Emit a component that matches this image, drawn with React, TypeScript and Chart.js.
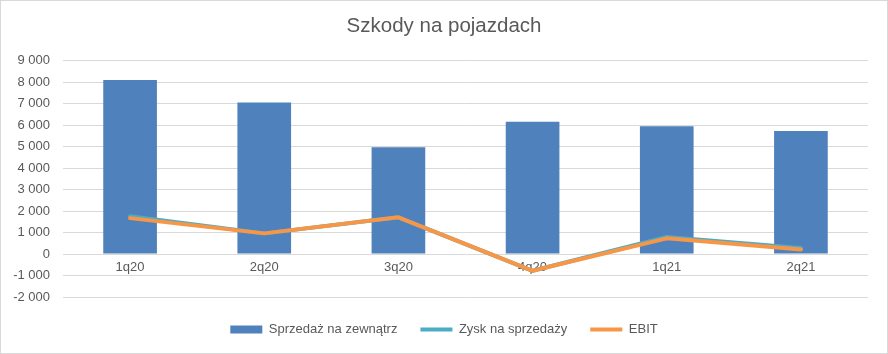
import React, { useEffect, useRef } from 'react';
import { Chart, registerables } from 'chart.js';

Chart.register(...registerables);

const categories = ['1q20', '2q20', '3q20', '4q20', '1q21', '2q21'];
const sprzedazNaZewnatrz = [8100, 7050, 4970, 6150, 5950, 5720];
const zyskNaSprzedazy = [1760, 960, 1710, -780, 790, 280];
const ebit = [1670, 960, 1710, -780, 730, 215];
const yMin = -2000;
const yMax = 9000;
const yStep = 1000;

const FONT = "'Liberation Sans', Arial, sans-serif";
const TEXT = '#595959';

function fmt(v: number): string {
  const s = Math.abs(Math.round(v)).toString().replace(/\B(?=(\d{3})+(?!\d))/g, ' ');
  return (v < 0 ? '-' : '') + s;
}

export default function App() {
  const ref = useRef<HTMLCanvasElement | null>(null);

  useEffect(() => {
    document.body.style.margin = '0';
    const canvas = ref.current;
    if (!canvas) return;
    const chart = new Chart(canvas, {
      type: 'bar',
      data: {
        labels: categories,
        datasets: [
          {
            type: 'bar',
            label: 'Sprzedaż na zewnątrz',
            data: sprzedazNaZewnatrz,
            backgroundColor: '#4F81BD',
            borderWidth: 0,
            barPercentage: 0.4,
            categoryPercentage: 1,
            pointStyle: 'rect',
            order: 3,
          } as any,
          {
            type: 'line',
            label: 'Zysk na sprzedaży',
            data: zyskNaSprzedazy,
            borderColor: '#4BACC6',
            backgroundColor: '#4BACC6',
            borderWidth: 4,
            pointRadius: 0,
            pointHoverRadius: 0,
            pointStyle: 'line',
            borderCapStyle: 'round',
            borderJoinStyle: 'round',
            tension: 0,
            order: 2,
          } as any,
          {
            type: 'line',
            label: 'EBIT',
            data: ebit,
            borderColor: '#F79646',
            backgroundColor: '#F79646',
            borderWidth: 4,
            pointRadius: 0,
            pointHoverRadius: 0,
            pointStyle: 'line',
            borderCapStyle: 'round',
            borderJoinStyle: 'round',
            tension: 0,
            order: 1,
          } as any,
        ],
      },
      options: {
        responsive: false,
        animation: false,
        layout: { padding: { left: 0, right: 0, top: 0, bottom: 7 } },
        plugins: {
          tooltip: { enabled: false },
          title: {
            display: true,
            text: 'Szkody na pojazdach',
            color: TEXT,
            font: { family: FONT, size: 20.5, weight: 'normal' },
            padding: { top: 13, bottom: 22 },
          },
          legend: {
            position: 'bottom',
            labels: {
              usePointStyle: true,
              pointStyleWidth: 32,
              boxHeight: 8,
              padding: 23,
              color: TEXT,
              font: { family: FONT, size: 13 },
              sort: (a: any, b: any) => a.datasetIndex - b.datasetIndex,
            },
          },
        },
        scales: {
          x: {
            position: { y: 0 } as any,
            grid: { display: false, drawTicks: false },
            border: { display: false },
            ticks: {
              color: TEXT,
              font: { family: FONT, size: 13 },
              padding: 6,
              maxRotation: 0,
            },
          },
          xSpacer: {
            type: 'category',
            position: 'bottom',
            display: true,
            grid: { display: false, drawTicks: false },
            border: { display: false },
            ticks: { display: false },
            afterFit: (scale: any) => {
              scale.height = 3;
            },
          } as any,
          y: {
            min: yMin,
            max: yMax,
            afterFit: (scale: any) => {
              scale.width = 62;
            },
            grid: { color: '#D9D9D9', lineWidth: 1, drawTicks: false },
            border: { display: false },
            ticks: {
              stepSize: yStep,
              color: TEXT,
              font: { family: FONT, size: 13 },
              padding: 13,
              callback: (v: any) => fmt(Number(v)),
            },
          },
          ySpacer: {
            type: 'linear',
            position: 'right',
            display: true,
            grid: { display: false, drawTicks: false },
            border: { display: false },
            ticks: { display: false },
            afterFit: (scale: any) => {
              scale.width = 19;
            },
          } as any,
        },
      },
    });
    return () => chart.destroy();
  }, []);

  return (
    <div
      style={{
        width: 888,
        height: 354,
        boxSizing: 'border-box',
        border: '1px solid #D9D9D9',
        background: '#fff',
      }}
    >
      <canvas ref={ref} width={886} height={352} style={{ display: 'block' }} />
    </div>
  );
}
